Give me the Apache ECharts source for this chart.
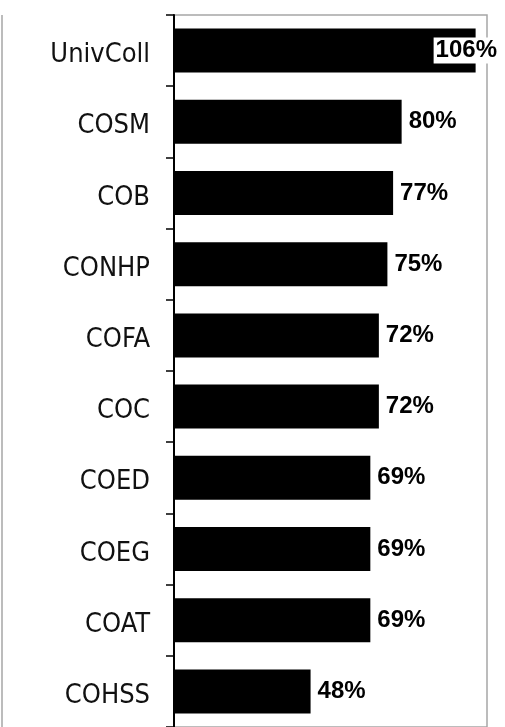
<!DOCTYPE html>
<html>
<head>
<meta charset="utf-8">
<script src="https://cdn.jsdelivr.net/npm/echarts@6/dist/echarts.min.js"></script>
<style>
  html, body { margin: 0; padding: 0; background: #fff; }
  #chart { width: 505px; height: 727px; }
</style>
</head>
<body>
<div id="chart"></div>
<script>
const colleges = ['UnivColl', 'COSM', 'COB', 'CONHP', 'COFA', 'COC', 'COED', 'COEG', 'COAT', 'COHSS']
const percents = [106, 80, 77, 75, 72, 72, 69, 69, 69, 48]

const chart = echarts.init(document.getElementById('chart'))

// the longest bar's label is pulled back inside the plot, on a white box
const barData = percents.map((v, i) => {
  if (i !== 0) return v
  return {
    value: v,
    label: { offset: [-49, 0], backgroundColor: '#fff', padding: [1, 2] },
  }
})

chart.setOption({
  animation: false,
  backgroundColor: '#fff',
  grid: {
    left: 174,
    right: 18,
    top: 15,
    height: 713,
    show: true,
    borderColor: '#a6a6a6',
    borderWidth: 1.5,
  },
  xAxis: {
    type: 'value',
    min: 0,
    max: 110,
    axisLabel: { show: false },
    axisTick: { show: false },
    axisLine: { show: false },
    splitLine: { show: false },
  },
  yAxis: {
    type: 'category',
    inverse: true,
    data: colleges,
    axisLine: { show: true, lineStyle: { color: '#000', width: 2 } },
    axisTick: { show: true, inside: false, length: 8, lineStyle: { color: '#000', width: 1.5 } },
    axisLabel: {
      margin: 24,
      formatter: v => '{a|' + v + '}',
      rich: {
        a: {
          color: '#111',
          fontSize: 27,
          padding: [9, 0, 0, 0],
          fontFamily: "'DejaVu Sans Condensed', 'Liberation Sans Narrow', 'DejaVu Sans', sans-serif",
        },
      },
    },
  },
  series: [
    {
      type: 'bar',
      data: barData,
      barWidth: 44,
      itemStyle: { color: '#000' },
      label: {
        show: true,
        position: 'right',
        distance: 7,
        formatter: '{c}%',
        color: '#000',
        fontSize: 24,
        fontWeight: 'bold',
        fontFamily: "'Liberation Sans', Arial, sans-serif",
      },
    },
  ],
  graphic: [
    {
      type: 'line',
      shape: { x1: 2, y1: 15, x2: 2, y2: 727 },
      style: { stroke: '#a6a6a6', lineWidth: 1.5 },
    },
  ],
})
</script>
</body>
</html>
